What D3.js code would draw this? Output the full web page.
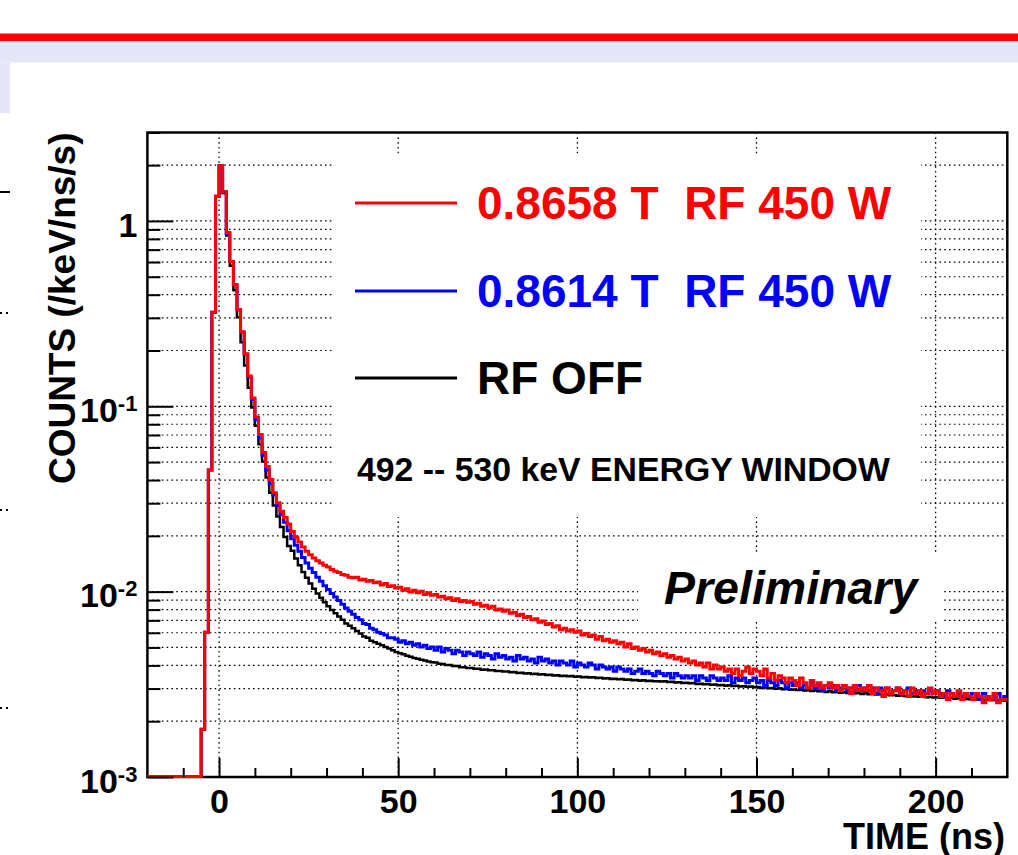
<!DOCTYPE html>
<html>
<head>
<meta charset="utf-8">
<script src="https://cdn.jsdelivr.net/npm/d3@7"></script>
<style>
  body { margin: 0; background: #fff; }
  svg { display: block; font-family: "Liberation Sans", Arial, Helvetica, sans-serif; font-weight: bold; }
  .grid line { stroke: #000; stroke-width: 1.2; stroke-dasharray: 1.6,3.2; }
  .tick line { stroke: #000; stroke-width: 2; }
</style>
</head>
<body>
<svg id="chart"></svg>
<script>
// Define SVG area dimensions
var svgWidth = 1018;
var svgHeight = 855;

var margin = { top: 132.5, right: 10.7, bottom: 78, left: 147.4 };

var chartWidth = svgWidth - margin.left - margin.right;
var chartHeight = svgHeight - margin.top - margin.bottom;

// ---- data, 1 ns bins from -20 to 220 ns ----
var binEdges = d3.range(-20, 221);

var redCounts = [
  0,0,0,0,0,0,0,0,0,0,0,0,0,0,0,
  0.0018,0.006,0.045,0.32,1.35,
  1.97,1.43,0.86,0.60,0.45,0.33,0.25,0.19,0.145,0.11,
  0.087,0.07,0.056,0.047,0.040,0.034,0.030,0.027,0.025,0.023,
  0.021,0.0196,0.0184,0.0173,0.0164,0.0157,0.0151,0.0146,0.0142,0.0138,
  0.0135,0.0131,0.0128,0.0126,0.0123,0.0122,0.0119,0.0118,0.0119,0.0115,
  0.0116,0.0113,0.0114,0.0111,0.0112,0.0108,0.0110,0.0106,0.0107,0.0104,
  0.0105,0.0101,0.0103,0.0099,0.0101,0.0098,0.0100,0.0096,0.0098,0.0095,
  0.0096,0.0093,0.0094,0.0091,0.0092,0.0089,0.0091,0.0088,0.0089,0.0087,
  0.0088,0.0085,0.0086,0.0083,0.0084,0.0081,0.0083,0.0079,0.0080,0.0078,
  0.0079,0.0076,0.0077,0.0074,0.0075,0.0072,0.0073,0.0070,0.0071,0.0068,
  0.0069,0.0066,0.0067,0.0064,0.0065,0.0062,0.0063,0.0061,0.0062,0.0060,
  0.0061,0.0058,0.0059,0.0057,0.0058,0.0055,0.0057,0.0054,0.0055,0.0053,
  0.0054,0.0052,0.0053,0.0050,0.0052,0.0049,0.0050,0.0048,0.0049,0.0047,
  0.0048,0.0046,0.0047,0.0045,0.0046,0.0044,0.0045,0.0043,0.0044,0.0042,
  0.0043,0.0041,0.0042,0.0040,0.0041,0.0039,0.0041,0.0038,0.0040,0.0038,
  0.0039,0.0037,0.0038,0.0036,0.0038,0.0035,0.0037,0.0039,0.0036,0.0038,
  0.0037,0.0035,0.0038,0.0034,0.0036,0.0033,0.0035,0.0034,0.0032,0.0034,
  0.0033,0.0031,0.0034,0.0032,0.0030,0.0033,0.0031,0.0032,0.0030,0.0031,
  0.0032,0.0030,0.0031,0.0029,0.0031,0.0030,0.0028,0.0031,0.0029,0.0030,
  0.0029,0.0031,0.0028,0.0030,0.0029,0.0027,0.0030,0.0028,0.0029,0.0030,
  0.0028,0.0029,0.0027,0.0030,0.0028,0.0029,0.0027,0.0028,0.0030,0.0028,
  0.0029,0.0027,0.0028,0.0026,0.0028,0.0027,0.0029,0.0026,0.0028,0.0027,
  0.0026,0.0028,0.0027,0.0025,0.0027,0.0026,0.0028,0.0025,0.0026,0.0026
];

var blueCounts = [
  0,0,0,0,0,0,0,0,0,0,0,0,0,0,0,
  0.0018,0.006,0.045,0.32,1.35,
  1.97,1.43,0.85,0.60,0.45,0.33,0.25,0.19,0.143,0.108,
  0.084,0.067,0.054,0.045,0.038,0.033,0.029,0.026,0.0235,0.0212,
  0.0192,0.0177,0.0164,0.0152,0.0142,0.0133,0.0126,0.0119,0.0113,0.0107,
  0.0102,0.0097,0.0093,0.0089,0.0085,0.0081,0.0078,0.0075,0.0072,0.0070,
  0.0067,0.0066,0.0063,0.0062,0.0060,0.0059,0.0058,0.0056,0.0056,0.0055,
  0.0053,0.0054,0.0052,0.0053,0.0051,0.0052,0.0050,0.0051,0.0049,0.0050,
  0.0048,0.0050,0.0047,0.0049,0.0048,0.0046,0.0048,0.0047,0.0045,0.0047,
  0.0046,0.0045,0.0047,0.0044,0.0046,0.0045,0.0043,0.0046,0.0044,0.0045,
  0.0043,0.0044,0.0042,0.0045,0.0043,0.0044,0.0042,0.0043,0.0041,0.0044,
  0.0042,0.0043,0.0041,0.0042,0.0040,0.0042,0.0041,0.0040,0.0042,0.0039,
  0.0041,0.0040,0.0039,0.0041,0.0040,0.0038,0.0040,0.0039,0.0038,0.0039,
  0.0037,0.0039,0.0038,0.0037,0.0038,0.0036,0.0037,0.0038,0.0036,0.0037,
  0.0036,0.0035,0.0037,0.0036,0.0035,0.0036,0.0034,0.0036,0.0035,0.0034,
  0.0035,0.0034,0.0035,0.0033,0.0035,0.0034,0.0033,0.0035,0.0034,0.0033,
  0.0034,0.0033,0.0035,0.0032,0.0034,0.0033,0.0034,0.0032,0.0033,0.0034,
  0.0032,0.0033,0.0031,0.0033,0.0032,0.0031,0.0033,0.0032,0.0030,0.0032,
  0.0031,0.0032,0.0030,0.0031,0.0030,0.0032,0.0030,0.0031,0.0029,0.0031,
  0.0030,0.0031,0.0029,0.0030,0.0031,0.0029,0.0030,0.0029,0.0031,0.0029,
  0.0030,0.0029,0.0030,0.0028,0.0030,0.0029,0.0030,0.0028,0.0029,0.0030,
  0.0028,0.0029,0.0030,0.0028,0.0029,0.0028,0.0029,0.0028,0.0029,0.0028,
  0.0029,0.0028,0.0027,0.0029,0.0028,0.0027,0.0028,0.0027,0.0028,0.0027,
  0.0028,0.0027,0.0026,0.0028,0.0027,0.0026,0.0027,0.0028,0.0026,0.0027
];

var blackCounts = [
  0,0,0,0,0,0,0,0,0,0,0,0,0,0,0,
  0.0018,0.006,0.045,0.32,1.35,
  1.97,1.40,0.83,0.57,0.42,0.30,0.22,0.165,0.125,0.098,
  0.078,0.062,0.050,0.041,0.034,0.029,0.0253,0.0222,0.0196,0.0175,
  0.0165,0.0150,0.0138,0.0127,0.0118,0.0110,0.0103,0.0097,0.0092,0.0087,
  0.0083,0.0079,0.0076,0.0073,0.0070,0.0067,0.0065,0.0063,0.0061,0.0059,
  0.0057,0.0056,0.0054,0.0053,0.0052,0.0051,0.0050,0.0049,0.0048,0.0047,
  0.00462,0.00456,0.00448,0.00443,0.00436,0.00432,0.00426,0.00423,0.00417,0.00414,
  0.00412,0.00406,0.00405,0.00400,0.00399,0.00394,0.00394,0.00389,0.00389,0.00385,
  0.00385,0.00381,0.00381,0.00377,0.00378,0.00374,0.00374,0.00371,0.00371,0.00368,
  0.00368,0.00365,0.00366,0.00362,0.00363,0.00360,0.00361,0.00357,0.00358,0.00355,
  0.00356,0.00353,0.00354,0.00351,0.00352,0.00349,0.00350,0.00347,0.00348,0.00345,
  0.00346,0.00343,0.00344,0.00342,0.00343,0.00340,0.00341,0.00338,0.00339,0.00336,
  0.00337,0.00335,0.00336,0.00333,0.00334,0.00331,0.00332,0.00329,0.00331,0.00328,
  0.00329,0.00326,0.00327,0.00325,0.00326,0.00323,0.00324,0.00321,0.00322,0.00319,
  0.00320,0.00318,0.00319,0.00316,0.00317,0.00315,0.00316,0.00313,0.00314,0.00311,
  0.00312,0.00309,0.00311,0.00308,0.00309,0.00306,0.00307,0.00305,0.00306,0.00303,
  0.00304,0.00300,0.00302,0.00299,0.00300,0.00297,0.00299,0.00296,0.00297,0.00294,
  0.00295,0.00293,0.00294,0.00291,0.00292,0.00289,0.00291,0.00288,0.00289,0.00286,
  0.00288,0.00285,0.00286,0.00283,0.00285,0.00282,0.00283,0.00281,0.00282,0.00279,
  0.00281,0.00278,0.00279,0.00277,0.00278,0.00275,0.00277,0.00274,0.00275,0.00273,
  0.00274,0.00272,0.00273,0.00270,0.00271,0.00269,0.00270,0.00268,0.00269,0.00267,
  0.00268,0.00266,0.00267,0.00265,0.00266,0.00263,0.00265,0.00262,0.00263,0.00261,
  0.00262,0.00260,0.00261,0.00259,0.00260,0.00258,0.00259,0.00257,0.00258,0.00256
];

var seriesNames = ["0.8658 T  RF 450 W", "0.8614 T  RF 450 W", "RF OFF"];
var seriesColors = ["#ff0000", "#0000ff", "#000000"];
var seriesWidths = [3, 3, 2.5];

var xMajorTicks = [0, 50, 100, 150, 200];
var xMinorTicks = [-10, 10, 20, 30, 40, 60, 70, 80, 90, 110, 120, 130, 140, 160, 170, 180, 190, 210];
var yMajorTicks = [1e-3, 1e-2, 1e-1, 1];
var yTickLabels = [["10", "-3"], ["10", "-2"], ["10", "-1"], ["1", ""]];

var yMin = 1e-3, yMax = 3;

// set the ranges
var x = d3.scaleLinear().domain([-20, 220]).range([0, chartWidth]);
var y = d3.scaleLog().domain([yMin, yMax]).range([chartHeight, 0]);

var svg = d3.select("#chart")
  .attr("width", svgWidth)
  .attr("height", svgHeight);

svg.append("rect").attr("width", svgWidth).attr("height", svgHeight).attr("fill", "#fff");

// slide decorations (red rule, lavender band)
svg.append("rect").attr("x", 0).attr("y", 33.5).attr("width", svgWidth).attr("height", 7.5).attr("fill", "#ff0000");
svg.append("rect").attr("x", 0).attr("y", 41).attr("width", svgWidth).attr("height", 21.5).attr("fill", "#e6e6fa");
svg.append("rect").attr("x", 0).attr("y", 62.5).attr("width", 10).attr("height", 50.5).attr("fill", "#e6e6fa");

// leftover marks of the neighbouring plot at the left edge
svg.append("line").attr("x1", 0).attr("x2", 10).attr("y1", 192).attr("y2", 192)
  .attr("stroke", "#000").attr("stroke-width", 2);
[313, 510, 708].forEach(function(yy) {
  svg.append("line").attr("x1", 0).attr("x2", 9).attr("y1", yy).attr("y2", yy)
    .attr("stroke", "#000").attr("stroke-width", 2).attr("stroke-dasharray", "2,4");
});

var chartGroup = svg.append("g")
  .attr("transform", `translate(${margin.left}, ${margin.top})`);

// clip slightly below the frame so the empty bins show on the bottom edge
chartGroup.append("clipPath").attr("id", "plotclip")
  .append("rect").attr("x", -2).attr("y", -2).attr("width", chartWidth + 4).attr("height", chartHeight + 3.5);

// grid
var grid = chartGroup.append("g").attr("class", "grid");
grid.selectAll(".gy")
  .data(y.ticks().filter(function(d) { return d > yMin * 1.0001 && d < yMax * 0.999; }))
  .enter().append("line")
  .attr("x1", 0).attr("x2", chartWidth)
  .attr("y1", function(d) { return y(d); })
  .attr("y2", function(d) { return y(d); });
grid.selectAll(".gx")
  .data(xMajorTicks)
  .enter().append("line")
  .attr("y1", 0).attr("y2", chartHeight)
  .attr("x1", function(d) { return x(d); })
  .attr("x2", function(d) { return x(d); });

// frame (histograms are painted over it, as in the original)
chartGroup.append("rect")
  .attr("width", chartWidth).attr("height", chartHeight)
  .attr("fill", "none").attr("stroke", "#000").attr("stroke-width", 2.5);

// histograms (drawn as steps)
var stepLine = d3.line()
  .curve(d3.curveStepAfter)
  .x(function(d) { return x(d.t); })
  .y(function(d) { return y(Math.max(d.v, yMin)) - 0.5; });

function toSteps(vals) {
  var pts = vals.map(function(v, i) { return { t: binEdges[i], v: v }; });
  pts.push({ t: binEdges[vals.length], v: vals[vals.length - 1] });
  return pts;
}

var allCounts = [redCounts, blueCounts, blackCounts];
[2, 1, 0].forEach(function(i) {
  chartGroup.append("path")
    .datum(toSteps(allCounts[i]))
    .attr("clip-path", "url(#plotclip)")
    .attr("fill", "none")
    .attr("stroke", seriesColors[i])
    .attr("stroke-width", seriesWidths[i])
    .attr("stroke-linejoin", "miter")
    .attr("d", stepLine);
});

// legend box
svg.append("rect").attr("x", 332).attr("y", 155).attr("width", 589).attr("height", 362).attr("fill", "#fff");
var legendY = [203, 291, 378];
seriesNames.forEach(function(name, i) {
  svg.append("line")
    .attr("x1", 355).attr("x2", 457)
    .attr("y1", legendY[i]).attr("y2", legendY[i])
    .attr("stroke", seriesColors[i]).attr("stroke-width", 3);
  svg.append("text")
    .attr("x", 477).attr("y", legendY[i] + 16)
    .attr("fill", seriesColors[i])
    .attr("font-size", "46px")
    .style("white-space", "pre")
    .text(name);
});
svg.append("text")
  .attr("x", 357).attr("y", 481)
  .attr("font-size", "33.8px")
  .text("492 -- 530 keV ENERGY WINDOW");

// Preliminary label
svg.append("rect").attr("x", 638).attr("y", 555).attr("width", 305).attr("height", 67).attr("fill", "#fff");
svg.append("text")
  .attr("x", 664).attr("y", 604)
  .attr("font-size", "46.5px")
  .attr("font-style", "italic")
  .text("Preliminary");

// X axis: minor + major ticks pointing inward
chartGroup.append("g")
  .attr("transform", "translate(0," + chartHeight + ")")
  .call(d3.axisBottom(x).tickValues(xMinorTicks).tickSize(-9).tickFormat(""))
  .call(function(g) { g.select(".domain").remove(); });

chartGroup.append("g")
  .attr("transform", "translate(0," + chartHeight + ")")
  .call(d3.axisBottom(x).tickValues(xMajorTicks).tickSize(-19).tickPadding(12).tickFormat(d3.format("d")))
  .call(function(g) { g.select(".domain").remove(); })
  .call(function(g) {
    g.selectAll("text").attr("font-size", "34px").attr("font-family", null).attr("fill", "#000");
  });

// Y axis: minor + major ticks
chartGroup.append("g")
  .call(d3.axisLeft(y).tickValues(y.ticks().filter(function(d) { return yMajorTicks.indexOf(d) < 0; }))
    .tickSize(-13).tickFormat(""))
  .call(function(g) { g.select(".domain").remove(); });

chartGroup.append("g")
  .call(d3.axisLeft(y).tickValues(yMajorTicks).tickSize(-26).tickPadding(10).tickFormat(""))
  .call(function(g) { g.select(".domain").remove(); })
  .call(function(g) {
    g.selectAll(".tick text").each(function(d, i) {
      var t = d3.select(this)
        .attr("font-size", "34px").attr("font-family", null).attr("fill", "#000")
        .attr("dy", "0.45em");
      t.append("tspan").text(yTickLabels[i][0]);
      if (yTickLabels[i][1]) {
        t.append("tspan").attr("font-size", "22px").attr("dy", "-0.5em").text(yTickLabels[i][1]);
      }
    });
  });

// axis titles
svg.append("text")
  .attr("transform", "translate(75," + margin.top + ") rotate(-90)")
  .attr("text-anchor", "end")
  .attr("font-size", "37px")
  .text("COUNTS (/keV/ns/s)");

svg.append("text")
  .attr("x", 1005).attr("y", 849)
  .attr("text-anchor", "end")
  .attr("font-size", "36px")
  .text("TIME (ns)");
</script>
</body>
</html>
